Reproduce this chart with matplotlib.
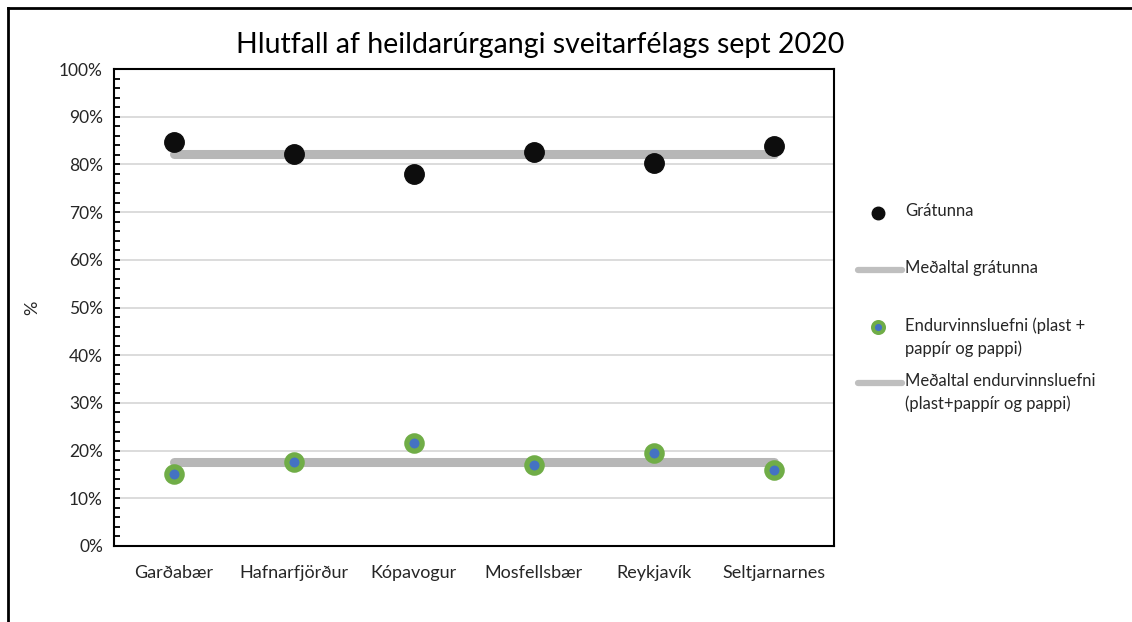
import numpy as np
import matplotlib.pyplot as plt
from matplotlib.lines import Line2D
from matplotlib.ticker import MultipleLocator, PercentFormatter

plt.rcParams['font.family'] = ['Lato', 'DejaVu Sans']

# data (percent of total municipal waste, sept 2020)
sveitarfelog = ['Garðabær', 'Hafnarfjörður', 'Kópavogur', 'Mosfellsbær', 'Reykjavík', 'Seltjarnarnes']
gratunna = [84.6, 82.1, 78.0, 82.7, 80.2, 83.8]
endurvinnsla = [15.0, 17.6, 21.6, 16.9, 19.6, 16.0]
medal_gratunna = 82.2
medal_endurvinnsla = 17.7

GREY = '#b7b7b7'
GREEN = '#70ad47'
BLUE = '#4472c4'
TXT = '#262626'

fig = plt.figure(figsize=(11.32, 6.22), dpi=100)
ax = fig.add_axes([114/1132, 1-546/622, 720/1132, 477/622])

x = np.arange(len(sveitarfelog))

ax.plot(x, [medal_gratunna]*len(x), color=GREY, lw=6.5, solid_capstyle='round', zorder=2)
ax.plot(x, [medal_endurvinnsla]*len(x), color=GREY, lw=6.5, solid_capstyle='round', zorder=2)
ax.plot(x, gratunna, ls='none', marker='o', ms=14, color='#0d0d0d', zorder=3)
ax.plot(x, endurvinnsla, ls='none', marker='o', ms=11, mfc=BLUE, mec=GREEN, mew=3.8, zorder=3)

ax.set_xlim(-0.5, len(x)-0.5)
ax.set_ylim(0, 100)
ax.set_xticks(x)
ax.set_xticklabels(sveitarfelog, fontsize=13, color=TXT)
ax.yaxis.set_major_locator(MultipleLocator(10))
ax.yaxis.set_minor_locator(MultipleLocator(2))
ax.yaxis.set_major_formatter(PercentFormatter(decimals=0))
ax.tick_params(axis='y', which='both', direction='in', length=4, width=1.3, labelsize=12.5, labelcolor=TXT, pad=8)
ax.tick_params(axis='x', length=0, pad=14)
ax.grid(axis='y', color='#d9d9d9', lw=1.3, zorder=0)
ax.set_axisbelow(True)
for s in ax.spines.values():
    s.set_color('black')
    s.set_linewidth(1.5)
ax.set_ylabel('%', fontsize=13, color=TXT)
ax.yaxis.set_label_coords((40-114)/720, 0.5)

fig.text(540/1132, 1-45/622, 'Hlutfall af heildarúrgangi sveitarfélags sept 2020',
         ha='center', va='center', fontsize=20.5, color='black')

# legend, Excel style: handle next to first line of label
leg = [
    (213, 'marker', 'Grátunna'),
    (270, 'line', 'Meðaltal grátunna'),
    (327, 'marker2', 'Endurvinnsluefni (plast +\npappír og pappi)'),
    (383, 'line', 'Meðaltal endurvinnsluefni\n(plast+pappír og pappi)'),
]
for ypix, kind, lab in leg:
    yf = 1 - ypix/622
    if kind == 'marker':
        fig.add_artist(Line2D([878/1132], [yf], ls='none', marker='o', ms=9, color='#0d0d0d'))
    elif kind == 'marker2':
        fig.add_artist(Line2D([878/1132], [yf], ls='none', marker='o', ms=8, mfc=BLUE, mec=GREEN, mew=2.8))
    else:
        fig.add_artist(Line2D([858/1132, 902/1132], [yf, yf], color='#bfbfbf', lw=4.5, solid_capstyle='round'))
    fig.text(905/1132, yf + 10/622, lab, ha='left', va='top', fontsize=12, color=TXT, linespacing=1.5)

# outer frame (left and top edges only, as in the original)
fig.add_artist(Line2D([8/1132, 8/1132], [0, 1-8/622], color='black', lw=2))
fig.add_artist(Line2D([8/1132, 1], [1-8/622, 1-8/622], color='black', lw=2))

fig.savefig('out.png', dpi=100, facecolor='white')
